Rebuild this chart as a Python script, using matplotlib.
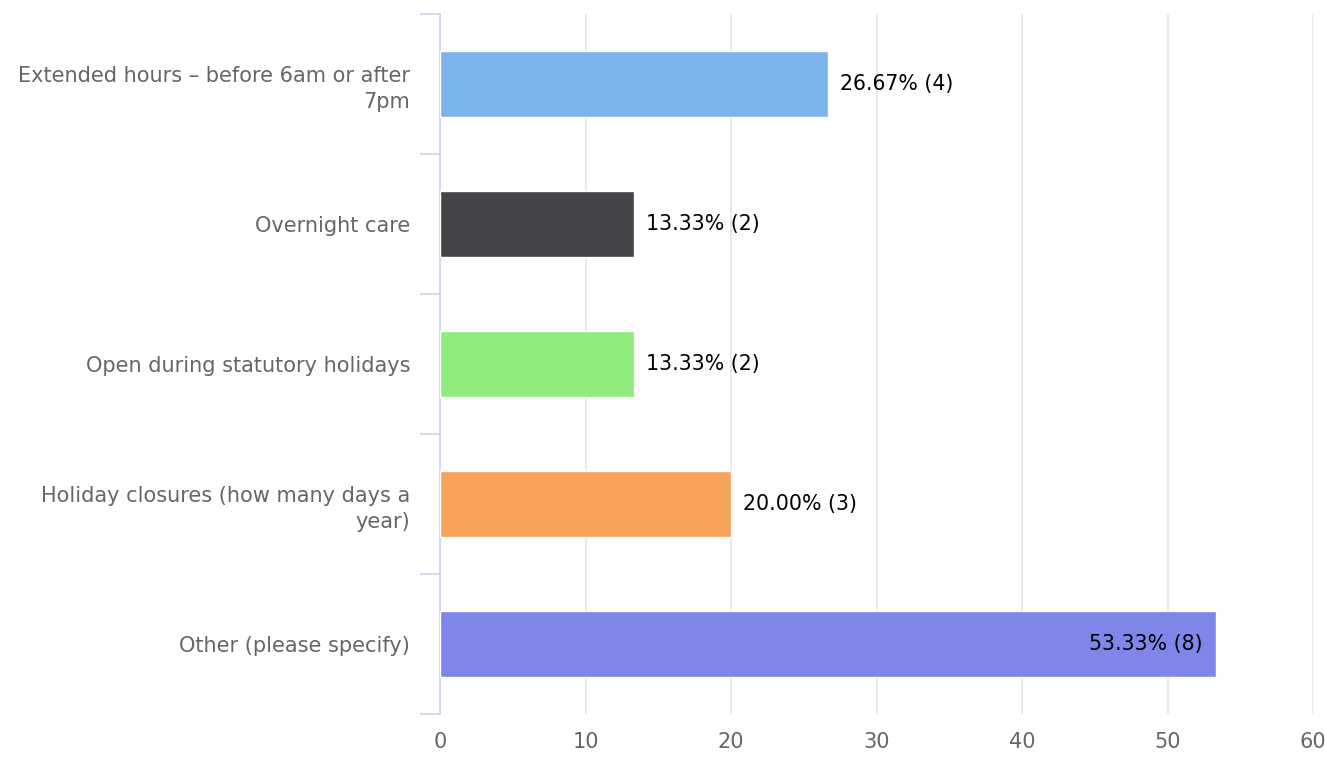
import matplotlib
matplotlib.use("Agg")
import matplotlib.pyplot as plt
import numpy as np

categories = [
    "Extended hours – before 6am or after\n7pm",
    "Overnight care",
    "Open during statutory holidays",
    "Holiday closures (how many days a\nyear)",
    "Other (please specify)",
]
percents = [26.67, 13.33, 13.33, 20.00, 53.33]
counts = [4, 2, 2, 3, 8]
colors = ["#7cb5ec", "#434348", "#90ed7d", "#f7a35c", "#8085e9"]
xticks = [0, 10, 20, 30, 40, 50, 60]

plt.rcParams['font.family'] = ['DejaVu Sans']

fig = plt.figure(figsize=(13.25, 7.57), dpi=100)
ax = fig.add_axes([440 / 1325, 1 - 714 / 757, (1313 - 440) / 1325, 700 / 757])

y = np.arange(len(categories))
ax.barh(y, percents, height=0.47, color=colors, edgecolor="white", linewidth=1, zorder=3)

ax.set_xlim(0, 60)
ax.set_ylim(len(categories) - 0.5, -0.5)
ax.set_xticks(xticks)
ax.set_xticklabels([str(t) for t in xticks])
ax.xaxis.grid(True, color="#e6e6e6", linewidth=1.2, zorder=0)
ax.set_axisbelow(True)

# category labels and boundary ticks
ax.set_yticks(y)
ax.set_yticklabels(categories, fontsize=15, color="#666666", ha="right", linespacing=1.4)
ax.tick_params(axis="y", which="major", length=0, pad=21.6)
ax.set_yticks(np.arange(-0.5, len(categories), 1), minor=True)
ax.tick_params(axis="y", which="minor", length=14.4, width=1.2, color="#ccd6eb")
ax.tick_params(axis="x", length=0, labelsize=15, labelcolor="#666666", pad=13)

for s in ["top", "right", "bottom"]:
    ax.spines[s].set_visible(False)
ax.spines["left"].set_color("#ccd6eb")
ax.spines["left"].set_linewidth(1.2)

for i, (p, c) in enumerate(zip(percents, counts)):
    label = "%.2f%% (%d)" % (p, c)
    if p > 50:
        ax.text(p - 0.9, i, label, ha="right", va="center", fontsize=14.8, color="black", zorder=4)
    else:
        ax.text(p + 0.8, i, label, ha="left", va="center", fontsize=14.8, color="black", zorder=4)

fig.savefig("out.png", dpi=100)
